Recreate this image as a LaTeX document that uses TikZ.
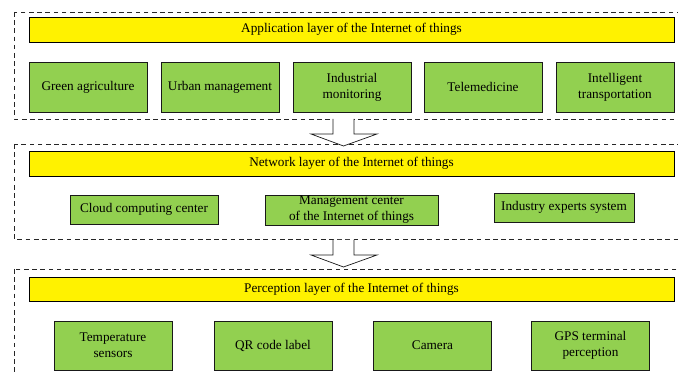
\documentclass[tikz,border=0pt]{standalone}
\usepackage{fontspec}
\setmainfont{Liberation Serif}
\usetikzlibrary{shapes, arrows.meta, positioning}
\definecolor{bargreen}{HTML}{92D050}
\tikzstyle{layer} = [draw=black!85, dashed, dash pattern=on 4pt off 3pt, line width=0.6pt]
\tikzstyle{title} = [rectangle, draw, fill=yellow, line width=0.6pt, minimum width=19.35cm, minimum height=0.75cm, inner sep=0pt]
\tikzstyle{item} = [rectangle, draw=black!90, fill=bargreen, line width=0.7pt, minimum width=3.54cm, minimum height=1.5cm, align=center, inner sep=1pt]
\tikzstyle{down} = [draw=black!90, fill=white, line width=0.6pt]

\begin{document}
\begin{tikzpicture}[x=0.03cm, y=0.03cm, font=\rmfamily\fontsize{11.3}{13.5}\selectfont]
  \clip (0,0) rectangle (678,374);

  % 应用层
  \draw[layer] (14,362) rectangle (700,255);
  \node[title] (app) at (351.5,344.5) {Application layer of the Internet of things};
  \node[item] (A1) at (88,287) {Green agriculture};
  \node[item] (A2) at (220,287) {Urban management};
  \node[item] (A3) at (352,287) {Industrial\\monitoring};
  \node[item] (A4) at (483,287) {Telemedicine};
  \node[item] (A5) at (615,287) {Intelligent\\transportation};

  % 网络层
  \draw[layer] (14,230) rectangle (700,135);
  \node[title] (net) at (351.5,210.5) {Network layer of the Internet of things};
  \node[item, minimum width=4.44cm, minimum height=0.87cm] (N1) at (144,164.5) {Cloud computing center};
  \node[item, minimum width=5.19cm, minimum height=0.9cm, inner sep=0pt] (N2) at (351.5,164) {Management center\\of the Internet of things};
  \node[item, minimum width=4.2cm, minimum height=0.87cm] (N3) at (564,166.5) {Industry experts system};

  % 感知层
  \draw[layer] (14,105) rectangle (700,-20);
  \node[title, minimum height=0.72cm] (per) at (351.5,85) {Perception layer of the Internet of things};
  \node[item, minimum height=1.47cm] (P1) at (113,28.5) {Temperature\\sensors};
  \node[item, minimum height=1.47cm] (P2) at (273,28.5) {QR code label};
  \node[item, minimum height=1.47cm] (P3) at (432.5,28.5) {Camera};
  \node[item, minimum height=1.47cm] (P4) at (590.5,28.5) {GPS terminal\\perception};

  % 层间箭头
  \foreach \y in {255,134} {
    \draw[down] (333,\y) -- (333,\y-15) -- (311,\y-15) -- (343.5,\y-27)
      -- (377,\y-15) -- (354,\y-15) -- (354,\y);
  }
\end{tikzpicture}
\end{document}
